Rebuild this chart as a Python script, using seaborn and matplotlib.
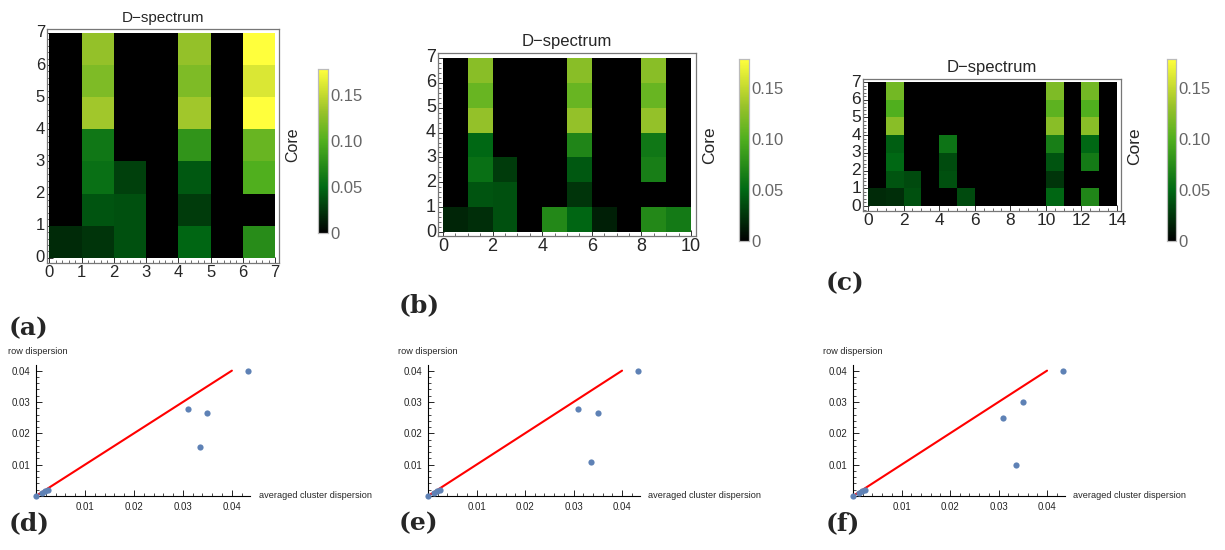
import numpy as np
import pandas as pd
import matplotlib
matplotlib.use("Agg")
import matplotlib.pyplot as plt
from matplotlib.colors import LinearSegmentedColormap
from matplotlib.ticker import MultipleLocator, FixedLocator
import seaborn as sns

# ---- D-spectrum core values, one list per column (row 0 at bottom .. row 6 at top)
core_a_cols = [
    [0.020, 0, 0, 0, 0, 0, 0],
    [0.025, 0.040, 0.055, 0.060, 0.135, 0.120, 0.130],
    [0.038, 0.038, 0.030, 0, 0, 0, 0],
    [0, 0, 0, 0, 0, 0, 0],
    [0.048, 0.028, 0.042, 0.080, 0.135, 0.120, 0.130],
    [0, 0, 0, 0, 0, 0, 0],
    [0.075, 0, 0.100, 0.110, 0.178, 0.160, 0.178],
]
core_b_cols = [
    [0.018, 0, 0, 0, 0, 0, 0],
    [0.022, 0.040, 0.055, 0.050, 0.130, 0.110, 0.125],
    [0.038, 0.038, 0.028, 0, 0, 0, 0],
    [0, 0, 0, 0, 0, 0, 0],
    [0.072, 0, 0, 0, 0, 0, 0],
    [0.048, 0.025, 0.042, 0.070, 0.130, 0.110, 0.125],
    [0.015, 0, 0, 0, 0, 0, 0],
    [0, 0, 0, 0, 0, 0, 0],
    [0.072, 0, 0.065, 0.060, 0.130, 0.110, 0.125],
    [0.062, 0, 0, 0, 0, 0, 0],
]
core_c_cols = [
    [0.020, 0, 0, 0, 0, 0, 0],
    [0.022, 0.040, 0.050, 0.045, 0.125, 0.100, 0.115],
    [0.038, 0.035, 0, 0, 0, 0, 0],
    [0, 0, 0, 0, 0, 0, 0],
    [0, 0.038, 0.036, 0.058, 0, 0, 0],
    [0.035, 0, 0, 0, 0, 0, 0],
    [0, 0, 0, 0, 0, 0, 0],
    [0, 0, 0, 0, 0, 0, 0],
    [0, 0, 0, 0, 0, 0, 0],
    [0, 0, 0, 0, 0, 0, 0],
    [0.048, 0.025, 0.040, 0.065, 0.125, 0.105, 0.120],
    [0, 0, 0, 0, 0, 0, 0],
    [0.070, 0, 0.062, 0.050, 0.125, 0.100, 0.115],
    [0, 0, 0, 0, 0, 0, 0],
]
core_ticks = [0, 0.05, 0.10, 0.15]
core_tick_labels = ["0", "0.05", "0.10", "0.15"]
core_max = 0.178

# ---- dispersion scatter values
avg_disp = [0.0, 0.0012, 0.0018, 0.0024, 0.031, 0.0335, 0.035, 0.0433]
row_disp_d = [0.0, 0.0010, 0.0015, 0.0019, 0.0278, 0.0157, 0.0264, 0.0400]
row_disp_e = [0.0, 0.0010, 0.0015, 0.0019, 0.0278, 0.0110, 0.0265, 0.0400]
row_disp_f = [0.0, 0.0010, 0.0015, 0.0019, 0.0250, 0.0100, 0.0300, 0.0400]
diag_x = [0.0, 0.04]
diag_y = [0.0, 0.04]
disp_ticks = [0.01, 0.02, 0.03, 0.04]

sns.set_style("white")
plt.rcParams["font.family"] = ["Liberation Sans", "DejaVu Sans"]

W, H = 1225, 550
fig = plt.figure(figsize=(W / 100, H / 100), dpi=100)


def px_box(left, top, right, bottom):
    return [left / W, 1 - bottom / H, (right - left) / W, (bottom - top) / H]


avocado = LinearSegmentedColormap.from_list("avocado", [
    (0.0, "#000000"),
    (0.11, "#002a08"),
    (0.28, "#006914"),
    (0.56, "#50af1e"),
    (0.74, "#98c22a"),
    (0.86, "#cadd30"),
    (1.0, "#ffff3c"),
])


def draw_spectrum(cols, frame, cbar, xstep, xpad, ypad, fs, title_fs, core_xy):
    data = pd.DataFrame(np.array(cols).T)
    ax = fig.add_axes(px_box(*frame))
    cax = fig.add_axes(px_box(*cbar))
    sns.heatmap(data, ax=ax, cbar_ax=cax, cmap=avocado, vmin=0, vmax=core_max,
                linewidths=0)
    ncol = data.shape[1]
    ax.set_xlim(-xpad[0], ncol + xpad[1])
    ax.set_ylim(-ypad[0], 7 + ypad[1])
    for s in ax.spines.values():
        s.set_visible(True)
        s.set_color("#777777")
        s.set_linewidth(0.9)
    ax.xaxis.set_major_locator(MultipleLocator(xstep))
    ax.xaxis.set_minor_locator(MultipleLocator(xstep / 4 if xstep > 1 else 0.2))
    ax.yaxis.set_major_locator(MultipleLocator(1))
    ax.yaxis.set_minor_locator(MultipleLocator(0.2))
    ax.set_xticklabels([f"{int(v)}" for v in ax.get_xticks()])
    ax.set_yticklabels([f"{int(v)}" for v in ax.get_yticks()], rotation=0)
    ax.tick_params(which="both", direction="in", bottom=True, left=True,
                   top=False, right=False, color="#333333", labelsize=fs, pad=1.5)
    ax.tick_params(which="major", length=4, width=0.7)
    ax.tick_params(which="minor", length=2, width=0.5)
    ax.set_xlabel("")
    ax.set_ylabel("")
    ax.set_title("D\u2212spectrum", fontsize=title_fs, pad=5)

    cax.yaxis.set_major_locator(FixedLocator(core_ticks))
    cax.yaxis.set_minor_locator(MultipleLocator(0.01))
    cax.set_yticklabels(core_tick_labels)
    cax.tick_params(which="both", direction="in", color="#bbbbbb", labelcolor="#666666",
                    labelsize=12, pad=2, right=True)
    cax.tick_params(which="major", length=3, width=0.6)
    cax.tick_params(which="minor", length=1.5, width=0.5)
    for s in cax.spines.values():
        s.set_visible(True)
        s.set_color("#bbbbbb")
        s.set_linewidth(0.8)
    fig.text(core_xy[0] / W, 1 - core_xy[1] / H, "Core", rotation=90,
             ha="center", va="center", fontsize=title_fs + 0.5)


draw_spectrum(core_a_cols, (47, 29, 279, 263), (318, 69, 328, 233), 1,
              (0.07, 0.12), (0.16, 0.12), 12, 11, (293, 145))
draw_spectrum(core_b_cols, (438, 53, 696, 236), (739, 59, 749, 241), 2,
              (0.2, 0.2), (0.16, 0.2), 13, 12, (710, 145))
draw_spectrum(core_c_cols, (863, 79, 1121, 211), (1167, 59, 1176, 241), 2,
              (0.28, 0.22), (0.28, 0.17), 12.5, 12, (1135, 146))


def draw_dispersion(row_disp, box, ylab_x):
    ax = fig.add_axes(px_box(*box))
    sns.lineplot(x=diag_x, y=diag_y, ax=ax, color="#ff0000", linewidth=1.5)
    sns.scatterplot(x=avg_disp, y=row_disp, ax=ax, color="#5e81b5", s=20,
                    linewidth=0, clip_on=False, zorder=3)
    ax.set_xlim(0, 0.0437)
    ax.set_ylim(0, 0.0418)
    ax.spines["top"].set_visible(False)
    ax.spines["right"].set_visible(False)
    for side in ("left", "bottom"):
        ax.spines[side].set_color("black")
        ax.spines[side].set_linewidth(0.8)
    ax.set_xticks(disp_ticks)
    ax.set_yticks(disp_ticks)
    ax.set_xticklabels([f"{v:.2f}" for v in disp_ticks])
    ax.set_yticklabels([f"{v:.2f}" for v in disp_ticks])
    ax.xaxis.set_minor_locator(MultipleLocator(0.002))
    ax.yaxis.set_minor_locator(MultipleLocator(0.002))
    ax.tick_params(which="both", direction="in", bottom=True, left=True,
                   labelsize=7, pad=4, color="black")
    ax.tick_params(which="major", length=4, width=0.6)
    ax.tick_params(which="minor", length=2, width=0.5)
    ax.text(1.04, 0.0, "averaged cluster dispersion", transform=ax.transAxes,
            ha="left", va="center", fontsize=6.6)
    fig.text(ylab_x / W, 1 - 352 / H, "row dispersion", ha="left", va="center",
             fontsize=6.6)


draw_dispersion(row_disp_d, (36, 365, 250, 496), 8)
draw_dispersion(row_disp_e, (428, 365, 640, 496), 398)
draw_dispersion(row_disp_f, (853, 365, 1065, 496), 823)

panel_labels = ["(a)", "(b)", "(c)", "(d)", "(e)", "(f)"]
panel_pos = [(9, 328), (399, 305), (826, 283), (9, 523), (399, 523), (826, 523)]
for lab, (px, py) in zip(panel_labels, panel_pos):
    fig.text(px / W, 1 - py / H, lab, fontsize=18, fontweight="bold",
             family="DejaVu Serif", ha="left", va="center")

fig.savefig("out.png", dpi=100)
